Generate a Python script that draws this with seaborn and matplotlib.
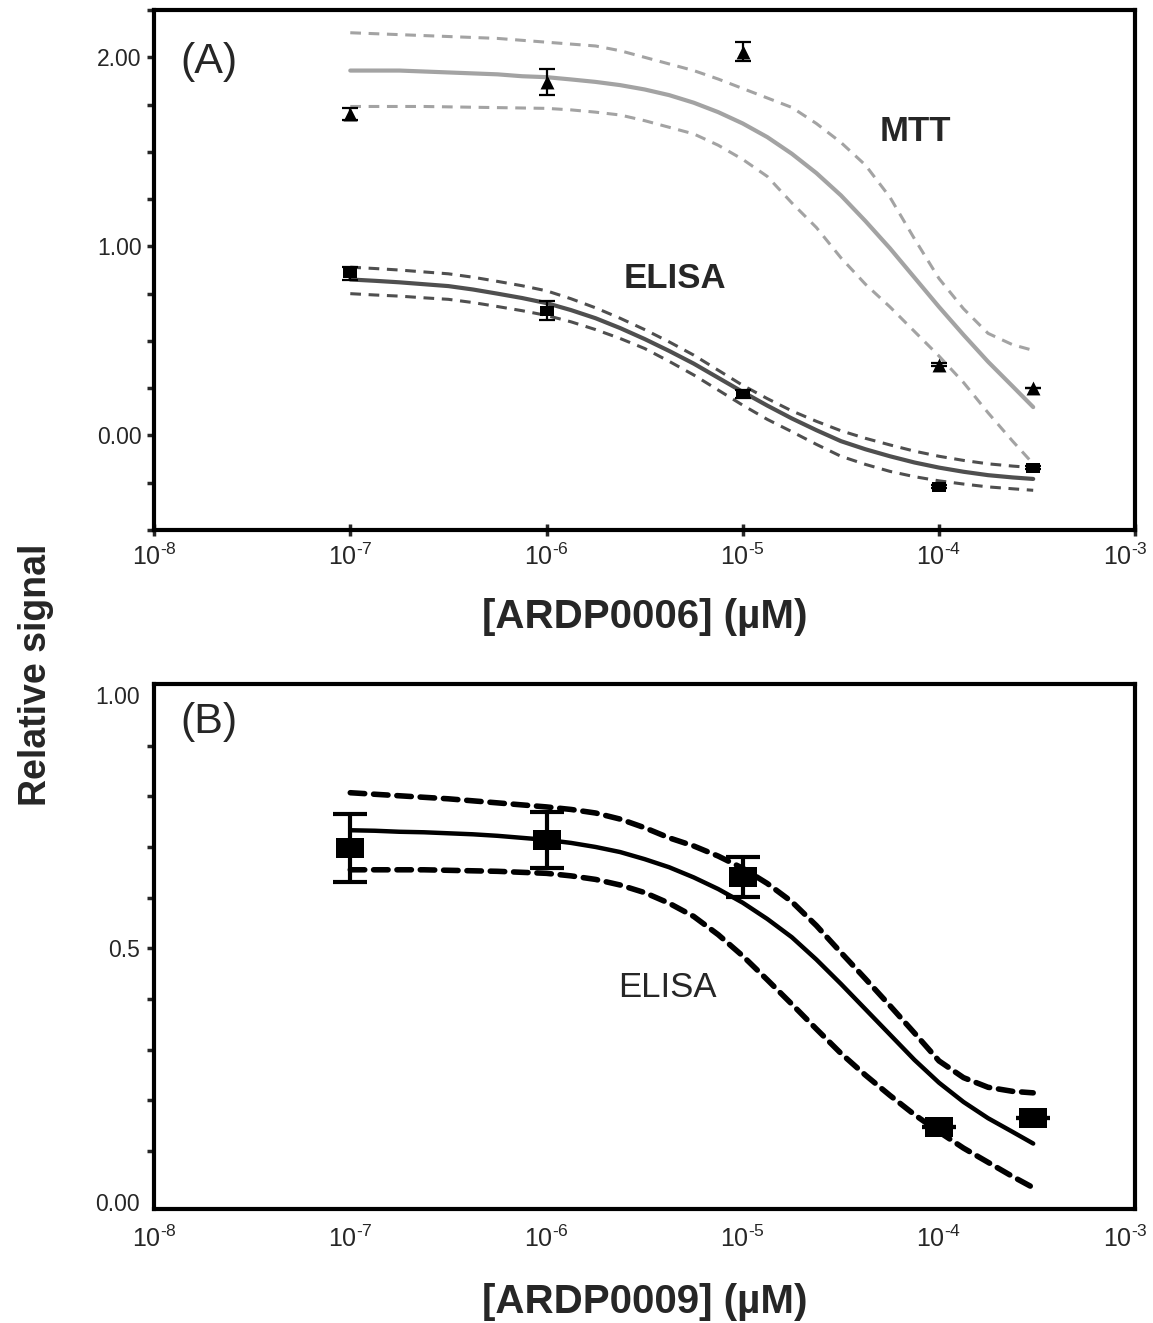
import matplotlib
matplotlib.use("Agg")
import matplotlib.pyplot as plt
import matplotlib.transforms as mtrans
from matplotlib.ticker import FixedLocator, NullLocator, FixedFormatter
import seaborn as sns

# measured concentrations (µM)
conc = [1e-7, 1e-6, 1e-5, 1e-4, 3e-4]

# (A) ARDP0006 - measured points
mtt_a = [1.70, 1.87, 2.03, 0.375, 0.25]
mtt_a_err = [0.03, 0.07, 0.05, 0.01, 0.0]
elisa_a = [0.857, 0.66, 0.22, -0.27, -0.17]
elisa_a_err = [0.035, 0.05, 0.02, 0.01, 0.01]

curve_logc = [-7, -6.875, -6.75, -6.625, -6.5, -6.375, -6.25, -6.125, -6, -5.875,
              -5.75, -5.625, -5.5, -5.375, -5.25, -5.125, -5, -4.875, -4.75, -4.625,
              -4.5, -4.375, -4.25, -4.125, -4, -3.875, -3.75, -3.625, -3.52]
mtt_fit = [1.93, 1.93, 1.93, 1.925, 1.92, 1.915, 1.91, 1.90, 1.895, 1.883,
           1.87, 1.853, 1.83, 1.80, 1.76, 1.71, 1.65, 1.578, 1.49, 1.388,
           1.27, 1.134, 0.99, 0.835, 0.68, 0.532, 0.39, 0.26, 0.15]
mtt_hi = [2.13, 2.125, 2.12, 2.115, 2.11, 2.105, 2.10, 2.09, 2.08, 2.07,
          2.06, 2.035, 2.00, 1.965, 1.93, 1.885, 1.835, 1.785, 1.735, 1.65,
          1.55, 1.43, 1.26, 1.04, 0.83, 0.67, 0.54, 0.48, 0.45]
mtt_lo = [1.74, 1.74, 1.74, 1.74, 1.738, 1.736, 1.734, 1.732, 1.73, 1.722,
          1.71, 1.695, 1.665, 1.63, 1.595, 1.535, 1.46, 1.37, 1.23, 1.10,
          0.94, 0.80, 0.68, 0.55, 0.42, 0.28, 0.12, -0.03, -0.15]
elisa_fit = [0.825, 0.818, 0.81, 0.80, 0.79, 0.772, 0.75, 0.727, 0.70, 0.663,
             0.62, 0.568, 0.51, 0.447, 0.38, 0.305, 0.23, 0.158, 0.09, 0.028,
             -0.03, -0.073, -0.11, -0.143, -0.17, -0.192, -0.21, -0.222, -0.23]
elisa_hi = [0.89, 0.883, 0.875, 0.865, 0.855, 0.837, 0.815, 0.792, 0.765, 0.723,
            0.675, 0.62, 0.56, 0.495, 0.425, 0.345, 0.265, 0.195, 0.13, 0.075,
            0.025, -0.015, -0.05, -0.083, -0.11, -0.132, -0.15, -0.162, -0.17]
elisa_lo = [0.75, 0.743, 0.737, 0.728, 0.72, 0.703, 0.682, 0.66, 0.635, 0.601,
            0.56, 0.513, 0.46, 0.392, 0.32, 0.24, 0.16, 0.085, 0.02, -0.047,
            -0.11, -0.153, -0.19, -0.218, -0.24, -0.257, -0.272, -0.282, -0.29]

# (B) ARDP0009
elisa_b = [0.698, 0.714, 0.641, 0.148, 0.166]
elisa_b_err = [0.067, 0.055, 0.04, 0.0, 0.0]
b_fit = [0.733, 0.732, 0.730, 0.729, 0.727, 0.725, 0.722, 0.718, 0.714, 0.708,
         0.700, 0.690, 0.676, 0.660, 0.640, 0.617, 0.590, 0.558, 0.522, 0.478,
         0.43, 0.38, 0.33, 0.28, 0.235, 0.197, 0.165, 0.138, 0.115]
b_hi = [0.807, 0.804, 0.801, 0.798, 0.795, 0.791, 0.787, 0.783, 0.779, 0.774,
        0.767, 0.755, 0.738, 0.718, 0.702, 0.682, 0.658, 0.628, 0.592, 0.545,
        0.492, 0.44, 0.387, 0.333, 0.278, 0.245, 0.226, 0.218, 0.215]
b_lo = [0.655, 0.655, 0.655, 0.655, 0.654, 0.653, 0.652, 0.650, 0.648, 0.643,
        0.636, 0.625, 0.610, 0.589, 0.563, 0.527, 0.485, 0.438, 0.390, 0.341,
        0.293, 0.250, 0.210, 0.172, 0.138, 0.106, 0.078, 0.05, 0.028]

x_ticks = [1e-8, 1e-7, 1e-6, 1e-5, 1e-4, 1e-3]
x_exps = ["8", "7", "6", "5", "4", "3"]
a_yticks = [0, 1, 2]
a_ylabels = ["0.00", "1.00", "2.00"]
b_yticks = [0, 0.5, 1]
b_ylabels = ["0.00", "0.5", "1.00"]

sns.set_style("white")
plt.rcParams["font.family"] = ["Liberation Sans", "DejaVu Sans"]
plt.rcParams["mathtext.fontset"] = "custom"
plt.rcParams["mathtext.rm"] = "Liberation Sans"
plt.rcParams["mathtext.default"] = "regular"

curve_x = [10 ** v for v in curve_logc]
rect = [(-1.4, -1), (1.4, -1), (1.4, 1), (-1.4, 1)]
x_labels = [r"$\mathdefault{10^{\text{-}%s}}$" % e for e in x_exps]

fig = plt.figure(figsize=(11.53, 13.23), dpi=100)
ax_a = fig.add_axes([0.1336, 0.5994, 0.851, 0.393])
ax_b = fig.add_axes([0.1336, 0.0862, 0.851, 0.397])

for ax in (ax_a, ax_b):
    ax.set_xscale("log")
    ax.set_xlim(1e-8, 1e-3)
    for s in ax.spines.values():
        s.set_linewidth(3)
        s.set_color("black")
    ax.xaxis.set_major_locator(FixedLocator(x_ticks))
    ax.xaxis.set_major_formatter(FixedFormatter(x_labels))
    ax.xaxis.set_minor_locator(NullLocator())
    ax.tick_params(axis="x", labelsize=18)
    ax.tick_params(axis="y", labelsize=16.5)

# ---- panel A
light = "#a3a3a3"
dark = "#4f4f4f"
adash = (0, (3.5, 2.5))
sns.lineplot(x=curve_x, y=mtt_hi, ax=ax_a, color=light, lw=2.2, linestyle=adash)
sns.lineplot(x=curve_x, y=mtt_lo, ax=ax_a, color=light, lw=2.2, linestyle=adash)
sns.lineplot(x=curve_x, y=mtt_fit, ax=ax_a, color=light, lw=3)
sns.lineplot(x=curve_x, y=elisa_hi, ax=ax_a, color=dark, lw=2.2, linestyle=adash)
sns.lineplot(x=curve_x, y=elisa_lo, ax=ax_a, color=dark, lw=2.2, linestyle=adash)
sns.lineplot(x=curve_x, y=elisa_fit, ax=ax_a, color=dark, lw=3)

ax_a.errorbar(conc, mtt_a, yerr=mtt_a_err, fmt="none", ecolor="black", elinewidth=1.6, capsize=6, capthick=1.6)
ax_a.errorbar(conc, elisa_a, yerr=elisa_a_err, fmt="none", ecolor="black", elinewidth=1.6, capsize=6, capthick=1.6)
sns.scatterplot(x=conc, y=mtt_a, ax=ax_a, marker="^", s=100, color="black", linewidth=0, zorder=5)
sns.scatterplot(x=conc, y=elisa_a, ax=ax_a, marker=rect, s=110, color="black", linewidth=0, zorder=5)

ax_a.set_ylim(-0.5, 2.25)
ax_a.yaxis.set_major_locator(FixedLocator(a_yticks))
ax_a.yaxis.set_major_formatter(FixedFormatter(a_ylabels))
ax_a.yaxis.set_minor_locator(FixedLocator([-0.5, -0.25, 0.25, 0.5, 0.75, 1.25, 1.5, 1.75, 2.25]))
ax_a.tick_params(axis="y", which="both", left=True, length=5, width=2.5, direction="out", pad=4)
ax_a.tick_params(axis="x", bottom=True, length=8, width=2.5, direction="inout", pad=6)
ax_a.set_xlabel("[ARDP0006] (µM)", fontsize=29, fontweight="bold", labelpad=20)
ax_a.set_ylabel("")

ax_a.text(0.027, 0.90, "(A)", transform=ax_a.transAxes, fontsize=31, va="center", ha="left")
ax_a.text(0.776, 0.767, "MTT", transform=ax_a.transAxes, fontsize=25, fontweight="bold", va="center", ha="center")
ax_a.text(0.531, 0.483, "ELISA", transform=ax_a.transAxes, fontsize=25, fontweight="bold", va="center", ha="center")

# ---- panel B
bdash = (0, (2.6, 1.6))
sns.lineplot(x=curve_x, y=b_hi, ax=ax_b, color="black", lw=4, linestyle=bdash, dash_capstyle="round")
sns.lineplot(x=curve_x, y=b_lo, ax=ax_b, color="black", lw=4, linestyle=bdash, dash_capstyle="round")
sns.lineplot(x=curve_x, y=b_fit, ax=ax_b, color="black", lw=3.2, solid_capstyle="round")
ax_b.errorbar(conc, elisa_b, yerr=elisa_b_err, fmt="none", ecolor="black", elinewidth=3, capsize=12, capthick=3)
sns.scatterplot(x=conc, y=elisa_b, ax=ax_b, marker=rect, s=380, color="black", linewidth=0, zorder=5)

ax_b.set_ylim(-0.014, 1.022)
ax_b.yaxis.set_major_locator(FixedLocator(b_yticks))
ax_b.yaxis.set_major_formatter(FixedFormatter(b_ylabels))
ax_b.yaxis.set_minor_locator(FixedLocator([0.1, 0.2, 0.3, 0.4, 0.5, 0.6, 0.7, 0.8, 0.9]))
ax_b.yaxis.remove_overlapping_locs = False
ax_b.tick_params(axis="y", which="major", left=True, length=0, pad=10)
ax_b.tick_params(axis="y", which="minor", left=True, length=5, width=2.5, direction="out")
ax_b.tick_params(axis="x", bottom=True, length=0, pad=12)
ax_b.set_xlabel("[ARDP0009] (µM)", fontsize=29, fontweight="bold", labelpad=22)
ax_b.set_ylabel("")

ax_b.text(0.027, 0.928, "(B)", transform=ax_b.transAxes, fontsize=31, va="center", ha="left")
ax_b.text(0.523, 0.421, "ELISA", transform=ax_b.transAxes, fontsize=25, va="center", ha="center")

# keep the right-most tick label inside the figure
nudge = mtrans.ScaledTranslation(-10 / 100, 0, fig.dpi_scale_trans)
for ax in (ax_a, ax_b):
    last = ax.xaxis.get_major_ticks()[-1].label1
    last.set_transform(last.get_transform() + nudge)

fig.text(0.031, 0.49, "Relative signal", rotation=90, fontsize=27, fontweight="bold", va="center", ha="center")

fig.savefig("out.png", dpi=100)
